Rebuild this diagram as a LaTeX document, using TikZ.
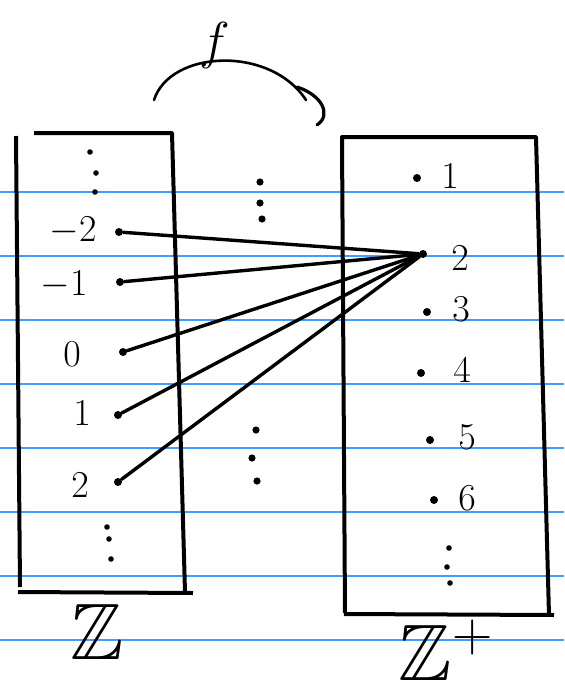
\RequirePackage{fix-cm}
\documentclass[tikz,border=0pt]{standalone}
\usepackage{amssymb}
\usetikzlibrary{calc}
\usetikzlibrary{positioning}
\definecolor{ruleblue}{RGB}{64,156,255}

\tikzset{
  pt/.style={circle, fill=black, inner sep=0pt, minimum size=4pt},
  elt/.style={font=\fontsize{19}{21}\selectfont, inner sep=1pt},
  setname/.style={font=\fontsize{40}{44}\selectfont},
  side/.style={line width=2pt},
  map/.style={line width=1.7pt, line cap=round},
}

\begin{document}
\begin{tikzpicture}[x=0.5pt, y=-0.5pt, line join=round]
          \useasboundingbox (0,0) rectangle (564,687);
          % ruled paper
          \foreach \y in {192,256,...,640}{
            \draw[ruleblue, line width=0.7pt] (0,\y) -- (564,\y);
          }
          % left set (integers)
          \draw[side] (34,133) -- (172,133) -- (185,592);
          \draw[side] (16,136) -- (20,587);
          \draw[side] (18,592) -- (193,593);
          % right set (positive integers)
          \draw[side] (342,140) -- (342,137) -- (536,137) -- (549,615);
          \draw[side] (342,140) -- (345,613);
          \draw[side] (344,614) -- (554,615);
          % elements of the left set
          \foreach \n/\lab/\lx/\ly/\dx/\dy in {m2/{$-2$}/73/231/119/232,
              m1/{$-1$}/64/285/120/282, z/{$0$}/72/354/123/352,
              p1/{$1$}/82/413/118/415, p2/{$2$}/80/485/118/482}{
            \node[pt] (l\n) at (\dx,\dy) {};
            \node[elt] (tl\n) at (\lx,\ly) {\lab};
          }
          % elements of the right set
          \foreach \n/\lx/\ly/\dx/\dy in {1/450/176/417/178, 2/460/258/423/254,
              3/461/309/427/312, 4/462/370/421/373, 5/467/437/430/440,
              6/467/498/434/500}{
            \node[pt] (r\n) at (\dx,\dy) {};
            \node[elt] (tr\n) at (\lx,\ly) {$\n$};
          }
          % continuation dots (drawn by hand)
          \foreach \x/\y in {90/152, 96/173, 95/192, 107/527, 109/539, 111/559,
              449/548, 447/567, 450/583}{
            \fill (\x,\y) circle (1.4pt);
          }
          \foreach \x/\y in {260/182, 260/203, 262/219, 256/430, 252/458, 257/481}{
            \fill (\x,\y) circle (1.8pt);
          }
          % every integer goes to 2
          \foreach \n in {m2,m1,z,p1,p2}{
            \draw[map] (l\n) -- (r2);
          }
          % the map f
          \node[elt, font=\fontsize{26}{28}\selectfont] (f) at (215,45) {$f$};
          \draw[line width=1.3pt, line cap=round] (154,100) .. controls (170,50) and (270,45) .. (306,100);
          \draw[line width=1.6pt, line cap=round] (297,87) .. controls (322,95) and (332,115) .. (317,125);
          % set names
          \node[setname] (Z) at (97,632) {$\mathbb{Z}$};
          \node[setname] (Zp) at (446,650) {$\mathbb{Z}^{+}$};
\end{tikzpicture}
\end{document}
